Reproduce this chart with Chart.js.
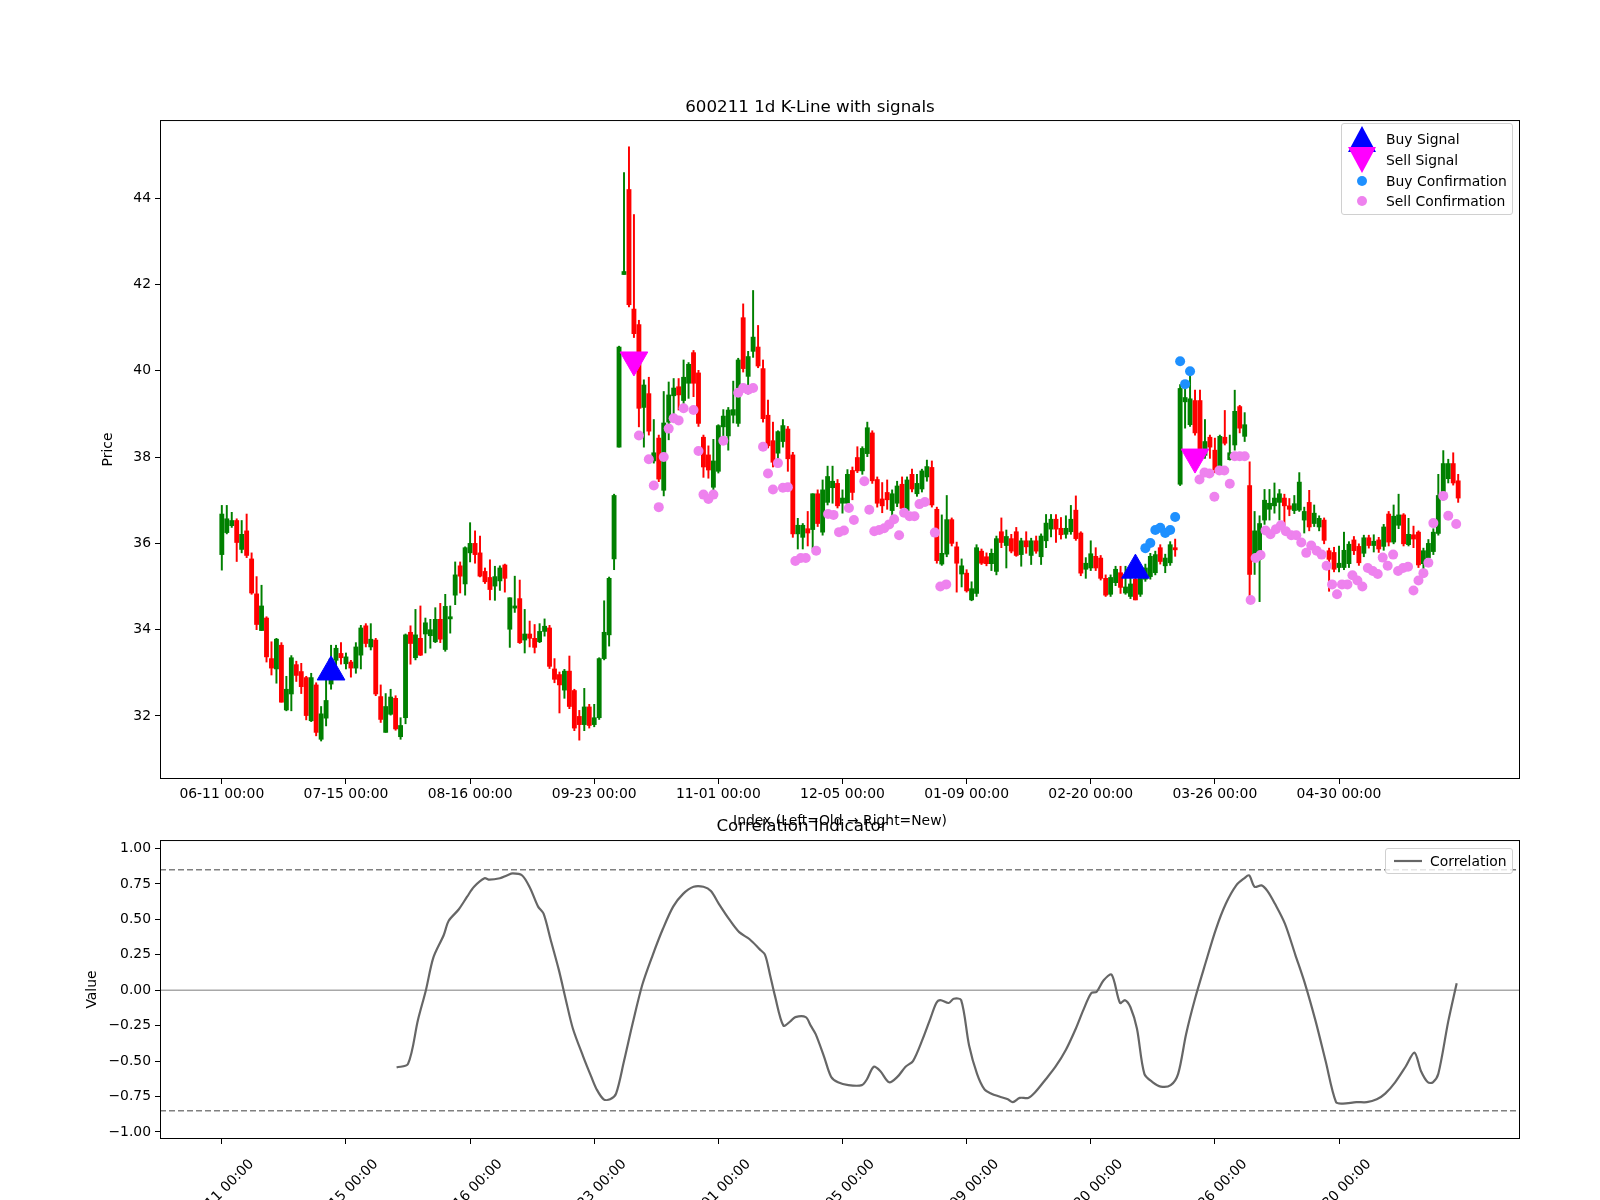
<!DOCTYPE html>
<html><head><meta charset="utf-8">
<script src="https://cdn.jsdelivr.net/npm/chart.js@4.4.0/dist/chart.umd.min.js"></script>
<style>
html,body{margin:0;padding:0;width:1600px;height:1200px;overflow:hidden;background:#fff;font-family:"DejaVu Sans",sans-serif}
canvas{position:absolute;left:0}
.leg{position:absolute;border:1px solid #d0d0d0;border-radius:3px;background:rgba(255,255,255,0.8);font-size:13.9px;color:#000}
.row{position:absolute;left:0;height:20px;line-height:20px;white-space:nowrap}
.row span{position:absolute;left:44px}
.row svg{position:absolute;left:4px;top:-4px}
</style></head><body>
<canvas id="top" style="top:0" width="1600" height="830"></canvas>
<canvas id="bot" style="top:800px" width="1600" height="400"></canvas>
<div class="leg" style="left:1341px;top:123px;width:170px;height:90px">
 <div class="row" style="top:5px"><svg width="32" height="28"><polygon points="16,1 30,27 2,27" fill="#0000ff"/></svg><span>Buy Signal</span></div>
 <div class="row" style="top:26px"><svg width="32" height="28"><polygon points="2,1 30,1 16,27" fill="#ff00ff"/></svg><span>Sell Signal</span></div>
 <div class="row" style="top:47px"><svg width="32" height="28"><circle cx="16" cy="14" r="5" fill="#1e90ff"/></svg><span>Buy Confirmation</span></div>
 <div class="row" style="top:67px"><svg width="32" height="28"><circle cx="16" cy="14" r="5" fill="#ee82ee"/></svg><span>Sell Confirmation</span></div>
</div>
<div class="leg" style="left:1385px;top:848px;width:126px;height:24px">
 <div class="row" style="top:2px"><svg width="36" height="28"><line x1="4" y1="14" x2="32" y2="14" stroke="#666" stroke-width="2.2"/></svg><span style="left:44px">Correlation</span></div>
</div>
<script>
const tickIdx = [0,25,50,75,100,125,150,175,200,225];
const tickLabels = ['06-11 00:00','07-15 00:00','08-16 00:00','09-23 00:00','11-01 00:00','12-05 00:00','01-09 00:00','02-20 00:00','03-26 00:00','04-30 00:00'];
// [open, high, low, close]
const ohlc = [
[35.74,36.88,35.38,36.68],[36.25,36.88,36.22,36.57],[36.41,36.72,36.37,36.53],[36.53,36.57,35.58,36.02],[35.86,36.53,35.78,36.21],
[36.29,36.68,35.67,35.72],[35.64,35.78,34.82,34.85],[34.83,35.23,34.0,34.12],[33.98,35.03,33.98,34.55],[34.27,34.3,33.25,33.37],
[33.33,33.72,32.95,33.11],[33.09,33.8,32.76,33.78],[33.64,33.7,32.32,32.32],[32.14,32.92,32.12,32.62],[32.51,33.4,32.12,33.35],
[33.19,33.27,32.8,32.94],[33.03,33.22,32.52,32.68],[32.89,32.92,31.91,32.01],[31.89,32.99,31.87,32.89],[32.72,32.77,31.54,31.62],
[31.46,32.22,31.42,32.05],[31.95,32.99,31.77,32.36],[32.74,33.64,32.62,33.32],[33.29,33.64,33.05,33.57],[33.45,33.7,33.2,33.35],
[33.21,33.46,33.09,33.37],[33.25,33.29,32.9,33.11],[33.11,33.7,32.99,33.6],[33.41,34.1,33.09,34.04],[34.09,34.14,33.6,33.68],
[33.6,34.14,33.53,33.78],[33.76,33.8,32.47,32.51],[32.45,32.72,31.85,31.92],[31.62,32.52,31.62,32.22],[32.04,32.62,32.02,32.44],
[32.41,32.47,31.67,31.7],[31.52,31.96,31.46,31.78],[31.96,33.9,31.82,33.88],[33.94,34.09,33.2,33.68],[33.35,34.47,33.3,33.88],
[33.8,34.55,33.4,33.41],
[33.9,34.27,33.46,34.16],[33.86,34.24,33.57,34.0],[33.72,34.51,33.7,34.24],[34.24,34.61,33.7,33.78],[33.54,34.82,33.5,34.54],
[34.25,34.55,33.92,34.3],[34.8,35.57,34.58,35.27],[35.48,35.57,34.85,35.24],[35.06,35.92,34.8,35.9],[35.78,36.48,35.57,36.0],
[36.0,36.29,35.54,35.74],[35.78,36.17,35.22,35.24],[35.35,35.43,35.07,35.11],[35.21,35.62,34.69,34.93],[35.01,35.47,34.68,35.23],
[35.13,35.48,34.91,35.43],[35.5,35.52,34.87,35.19],[34.01,34.74,33.59,34.74],[34.5,35.24,34.4,34.55],[34.72,35.15,33.68,33.7],
[33.76,34.47,33.46,33.9],[33.9,34.2,33.6,33.8],[33.8,34.12,33.46,33.59],[33.72,34.14,33.7,33.96],[33.96,34.25,33.85,34.08],
[34.04,34.1,33.1,33.15],[33.09,33.33,32.77,32.85],[32.96,33.02,32.07,32.72],[32.6,33.08,32.41,33.04],[33.04,33.39,32.17,32.22],
[32.59,32.62,31.66,31.72],[31.99,32.13,31.44,31.8],[31.8,32.64,31.66,32.21],[32.21,32.27,31.72,31.78],[31.8,32.27,31.75,31.96],
[31.96,33.35,31.92,33.33],[33.33,34.67,33.3,33.94],[33.88,35.22,33.62,35.19],[35.64,37.14,35.39,37.11],
[38.23,40.57,38.23,40.55],[42.23,44.59,42.23,42.3],[44.2,45.19,41.48,41.53],[41.43,43.62,40.77,40.86],[41.07,41.17,38.7,39.13],
[39.15,39.79,38.23,39.67],[39.47,39.85,38.51,38.6],[37.91,38.87,37.86,38.1],[38.44,38.51,37.43,37.49],[37.23,39.52,37.1,38.79],
[38.81,39.74,38.4,39.44],[39.42,39.82,38.87,39.6],[39.63,39.82,39.09,39.44],[39.31,40.25,39.24,39.85],[39.71,40.19,39.36,40.15],
[40.42,40.47,39.4,39.71],[39.95,40.01,38.71,38.78],[38.46,38.51,37.53,37.77],[38.05,38.26,37.51,37.7],[37.3,38.41,37.23,37.91],
[37.67,38.75,37.63,38.73],[38.7,39.1,38.45,38.95],[38.49,39.15,38.16,39.09],[38.97,39.76,38.79,39.1],[38.78,40.29,38.71,40.25],
[41.23,41.55,39.97,40.05],[39.87,40.45,39.46,40.33],[40.45,41.86,40.31,40.78],[40.55,41.05,40.07,40.11],[40.05,40.25,38.81,38.89],
[38.97,39.32,38.21,38.26],[38.38,38.81,37.77,37.88],[38.09,38.61,37.79,38.59],[38.36,38.87,38.23,38.73],[38.65,38.71,37.67,37.96],
[38.05,38.11,36.14,36.22],[36.22,36.58,35.87,36.42],[36.14,36.46,35.87,36.42],[36.34,36.74,35.94,36.24],[36.32,37.15,35.87,37.15],
[37.15,37.24,36.39,36.46],[36.26,37.47,36.19,37.24],[36.95,37.79,36.89,37.55],[37.29,37.79,36.93,37.44],[37.39,37.48,36.82,36.87],
[36.93,37.24,36.7,37.05],[36.93,37.71,36.84,37.6],[37.69,37.77,37.01,37.18],[37.99,38.24,37.64,37.68],[37.68,38.24,37.6,38.2],
[38.08,38.81,38.01,38.68],[38.56,38.61,37.39,37.45],[37.48,37.54,36.84,36.93],[37.03,37.41,36.71,36.87],[37.18,37.47,36.79,37.01],
[36.76,37.24,36.63,37.15],[36.93,37.44,36.85,37.33],[37.37,37.54,36.71,36.81],[36.76,37.54,36.74,37.47],[37.6,37.72,37.19,37.26],
[37.15,37.6,37.09,37.39],[37.26,37.72,37.19,37.68],[37.54,37.93,37.44,37.78],[37.76,37.91,36.84,36.89],[36.79,36.84,35.54,35.6],
[35.52,36.66,35.49,35.77],[35.75,37.11,35.69,36.55],[36.55,36.59,35.94,36.0],
[35.92,36.03,34.87,35.54],[35.29,35.64,34.99,35.48],[35.31,35.39,34.87,34.9],[34.69,35.11,34.67,34.95],[34.84,35.97,34.77,35.9],
[35.82,35.87,35.51,35.54],[35.69,35.78,35.48,35.53],[35.53,35.87,35.37,35.77],[35.35,36.17,35.27,36.11],[36.27,36.59,35.9,36.02],
[35.95,36.31,35.43,36.16],[36.11,36.21,35.78,35.82],[36.27,36.37,35.7,35.72],[35.74,36.12,35.47,36.06],[36.06,36.27,35.77,35.92],
[35.72,36.12,35.51,36.06],[36.06,36.17,35.77,35.82],[35.69,36.22,35.51,36.17],[36.06,36.67,35.9,36.47],[36.33,36.67,36.15,36.56],
[36.56,36.67,36.02,36.33],[36.35,36.6,36.1,36.2],[36.21,36.64,36.12,36.35],[36.27,36.88,36.21,36.56],[36.77,37.1,36.07,36.11],
[36.24,36.27,35.25,35.31],[35.4,35.67,35.19,35.54],[35.43,36.06,35.37,35.76],[35.7,35.9,35.37,35.43],[35.66,35.72,35.15,35.19],
[35.19,35.27,34.77,34.8],[34.82,35.27,34.77,35.21],[35.09,35.47,35.02,35.4],[35.32,35.47,34.84,34.98],[34.85,35.47,34.82,34.99],
[34.77,35.22,34.72,35.06],[35.17,35.22,34.69,34.69],[34.82,35.37,34.77,35.26],[35.17,35.52,35.12,35.43],[35.23,35.77,35.17,35.7],
[35.32,35.82,35.27,35.74],[35.9,35.97,35.52,35.58],
[35.48,35.75,35.32,35.66],[35.55,36.04,35.49,35.97],[35.9,36.1,35.7,35.85],[37.37,39.68,37.34,39.59],[39.28,39.67,38.67,39.38],
[38.75,40.01,38.71,39.35],[39.31,39.55,38.51,38.56],[39.31,39.55,38.04,38.08],[38.04,38.87,37.97,38.36],[38.46,38.51,37.97,38.23],
[38.16,38.44,37.64,37.7],[37.77,38.51,37.74,38.48],[38.46,39.08,38.28,38.32],[37.94,38.51,37.93,38.1],[38.28,39.55,38.16,39.06],
[39.17,39.2,38.56,38.67],[38.48,39.03,38.36,38.75],[37.34,37.89,34.73,35.28],[35.58,36.74,35.28,36.29],[35.63,36.64,34.65,36.46],
[36.54,37.25,36.44,37.0],[36.79,37.25,36.54,36.93],[36.87,37.4,36.7,37.05],[36.95,37.25,36.54,37.15],[37.05,37.14,36.42,36.87],
[36.87,37.04,36.64,36.79],[36.76,37.11,36.69,36.92],[36.77,37.64,36.74,37.42],[36.54,36.84,36.24,36.74],[36.95,37.23,36.29,36.38],
[36.46,36.89,36.39,36.7],[36.38,36.64,36.29,36.58],[36.54,36.59,35.99,36.07],[35.83,35.89,34.89,35.63],[35.79,35.91,35.34,35.4],
[35.44,35.94,35.34,35.54],[35.44,36.26,35.39,35.84],[35.53,36.04,35.44,35.98],[36.08,36.16,35.74,35.83],[35.93,35.99,35.49,35.55],
[35.77,36.19,35.69,36.13],[36.13,36.19,35.89,35.95],[35.95,36.2,35.8,36.05],[36.08,36.14,35.79,35.87],[35.93,36.44,35.84,36.38],
[36.68,36.74,35.94,36.03],[36.03,36.89,35.99,36.63],[36.42,37.14,36.34,36.66],[36.66,36.69,35.94,35.99],[35.97,36.58,35.94,36.21],
[36.2,36.4,35.9,36.1],[36.26,36.29,35.44,35.5],[35.53,35.89,35.36,35.83],[35.67,36.09,35.64,36.0],[35.81,36.34,35.74,36.26],
[36.23,37.6,36.19,37.11],[37.1,38.15,37.0,37.85],[37.5,37.95,37.4,37.85],[37.85,38.1,37.35,37.4],[37.45,37.6,36.95,37.05]
];
const buySigIdx = [22,184], buySigPrice = [33.02,35.38];
const sellSigIdx = [83,196], sellSigPrice = [40.25,38.0];
const buyConfIdx = [186,187,188,189,190,191,192,193,194,195];
const buyConfPrice = [35.89,36.01,36.31,36.36,36.24,36.31,36.61,40.22,39.69,39.99];
const sellConfIdx = [84,86,87,88,89,90,91,92,93,95,96,97,98,99,101,104,105,106,107,109,110,111,112,113,114,
 115.5,116.6,117.6,119.7,122.1,123.2,124.3,125.3,126.3,127.3,129.4,130.4,131.4,132.4,133.4,134.4,135.4,136.4,137.4,138.5,139.5,140.5,141.6,143.6,144.7,145.9,
 196.9,197.9,198.9,199.9,200.9,201.9,203,204,205,206,207.2,208.2,209.2,210.2,211.2,212.3,213.3,214.3,215.4,216.4,217.4,218.4,219.4,220.5,221.5,222.5,223.6,224.6,225.6,226.7,227.7,228.7,229.7,230.8,231.8,232.8,233.8,234.8,235.9,236.9,237.9,238.9,240,241,242,243,244,246,247,248.6];
const sellConfPrice = [38.5,37.95,37.34,36.84,38.0,38.66,38.9,38.85,39.13,39.09,38.14,37.13,37.03,37.13,38.38,39.49,39.6,39.56,39.6,38.24,37.62,37.25,37.86,37.29,37.3,
 35.59,35.66,35.66,35.83,36.68,36.66,36.26,36.3,36.82,36.54,37.44,36.78,36.28,36.31,36.35,36.44,36.56,36.19,36.71,36.63,36.63,36.91,36.96,36.25,35.0,35.05,
 37.48,37.64,37.62,37.08,37.69,37.69,37.38,38.02,38.02,38.02,34.69,35.66,35.73,36.3,36.21,36.33,36.42,36.28,36.19,36.19,36.02,35.78,35.95,35.83,35.74,35.48,35.05,34.82,35.05,35.05,35.26,35.14,35.0,35.43,35.36,35.29,35.67,35.48,35.74,35.36,35.43,35.46,34.91,35.14,35.31,35.55,36.47,37.1,36.64,36.45];
const corrIdx = [35.2,37.5,39.5,41.1,42.6,44.7,45.7,47.7,49.4,50.8,52.9,53.9,56,57.4,58.6,60.5,62.1,63.7,64.8,66.2,67.9,69.3,70.7,72.8,74.4,75.5,76.9,78.2,79.4,81,82.7,84.7,86.8,88.8,90.9,92.9,95,97,98.5,100.1,102.2,104.2,106.3,108.3,109.4,110.4,111.4,113.1,114.5,115.5,117.6,118.6,119.6,121.3,122.7,124.1,126.2,128.9,129.9,131.3,132.6,134.4,136.1,137.7,139.2,141.2,142.7,143.9,144.7,146.4,147.4,148.9,150.5,152.1,153.6,155,156.6,158.3,159.3,160.7,162.4,163.8,165.9,167.9,170,172,173.5,175.1,176.2,177.6,179.2,180.9,181.9,183,184.3,185.8,187.5,189.1,191.1,192.6,194.2,196,198.1,200.2,202.2,204.3,205.9,206.9,208,209.4,210.6,212.1,214.1,216.2,218.2,220.3,222.3,224.4,225.8,228.5,230.6,232.6,234.3,236.3,238.4,240.2,241.5,242.9,243.9,245,247,248.7];
const corrVal = [-0.545,-0.52,-0.21,0,0.23,0.39,0.49,0.57,0.66,0.73,0.79,0.78,0.79,0.81,0.825,0.81,0.72,0.59,0.54,0.36,0.14,-0.07,-0.27,-0.47,-0.61,-0.70,-0.77,-0.77,-0.73,-0.50,-0.24,0.04,0.25,0.43,0.59,0.68,0.73,0.73,0.70,0.61,0.50,0.41,0.36,0.29,0.25,0.11,-0.04,-0.25,-0.22,-0.19,-0.19,-0.25,-0.31,-0.47,-0.61,-0.65,-0.67,-0.67,-0.63,-0.54,-0.57,-0.65,-0.61,-0.54,-0.50,-0.34,-0.20,-0.09,-0.07,-0.09,-0.06,-0.07,-0.39,-0.59,-0.70,-0.73,-0.75,-0.77,-0.79,-0.76,-0.76,-0.72,-0.63,-0.54,-0.42,-0.27,-0.14,-0.02,-0.01,0.07,0.11,-0.09,-0.07,-0.12,-0.27,-0.59,-0.65,-0.68,-0.67,-0.59,-0.31,-0.06,0.19,0.43,0.61,0.74,0.79,0.81,0.73,0.74,0.70,0.61,0.47,0.25,0.04,-0.22,-0.50,-0.79,-0.80,-0.79,-0.79,-0.77,-0.73,-0.65,-0.54,-0.44,-0.57,-0.65,-0.65,-0.59,-0.22,0.05];

const XMIN=-12.45, XMAX=261.45;
const FONT={family:'DejaVu Sans',size:13.9};
Chart.defaults.font.family='DejaVu Sans';
Chart.defaults.color='#000';
Chart.defaults.animation=false;
const frame={id:'frame',afterDraw(c){const a=c.chartArea,x=c.ctx;x.save();x.strokeStyle='#000';x.lineWidth=1;x.strokeRect(a.left+0.5,a.top+0.5,a.right-a.left-1,a.bottom-a.top-1);x.restore();}};
const col=r=>r[3]>=r[0]?'#008000':'#ff0000';
function xScale(rot){return {type:'linear',min:XMIN,max:XMAX,offset:false,
  afterBuildTicks:s=>{s.ticks=tickIdx.map(v=>({value:v}));},
  afterFit:s=>{s.height=rot?61:51;},
  grid:{offset:false,drawOnChartArea:false,drawTicks:true,tickLength:5,color:'#000'},border:{display:false},
  ticks:{font:FONT,color:'#000',padding:rot?12:2,autoSkip:false,maxRotation:rot?45:0,minRotation:rot?45:0,labelOffset:rot?30:0,
    callback:v=>{const i=tickIdx.indexOf(v);return i>=0?tickLabels[i]:'';}},
  title:rot?{display:false}:{display:true,text:'Index (Left=Old \u2192 Right=New)',font:FONT,padding:{top:0,bottom:0}}};}

new Chart(document.getElementById('top'),{type:'bar',
 data:{datasets:[
  {type:'scatter',label:'Buy Signal',data:buySigIdx.map((x,i)=>({x,y:buySigPrice[i]})),pointStyle:'triangle',pointRadius:16,backgroundColor:'#0000ff',borderColor:'#0000ff',order:1},
  {type:'scatter',label:'Sell Signal',data:sellSigIdx.map((x,i)=>({x,y:sellSigPrice[i]})),pointStyle:'triangle',rotation:180,pointRadius:16,backgroundColor:'#ff00ff',borderColor:'#ff00ff',order:1},
  {type:'scatter',label:'Buy Confirmation',data:buyConfIdx.map((x,i)=>({x,y:buyConfPrice[i]})),pointRadius:5,backgroundColor:'#1e90ff',borderWidth:0,order:2},
  {type:'scatter',label:'Sell Confirmation',data:sellConfIdx.map((x,i)=>({x,y:sellConfPrice[i]})),pointRadius:5,backgroundColor:'#ee82ee',borderWidth:0,order:2},
  {label:'body',data:ohlc.map((r,i)=>({x:i,y:[r[0],r[3]===r[0]?r[3]+0.02:r[3]]})),backgroundColor:ohlc.map(col),barThickness:4.2,grouped:false,order:4},
  {label:'wick',data:ohlc.map((r,i)=>({x:i,y:[r[2],r[1]]})),backgroundColor:ohlc.map(col),barThickness:1.3,grouped:false,order:5}
 ]},
 options:{responsive:false,devicePixelRatio:1,layout:{padding:{left:100,right:80,top:0,bottom:0}},
  plugins:{legend:{display:false},tooltip:{enabled:false},
   title:{display:true,text:'600211 1d K-Line with signals',font:{family:'DejaVu Sans',size:16.7,weight:'normal'},color:'#000',padding:{top:98,bottom:2}}},
  scales:{x:xScale(false),
   y:{type:'linear',min:30.54,max:45.81,afterBuildTicks:s=>{s.ticks=[32,34,36,38,40,42,44].map(v=>({value:v}));},
    afterFit:s=>{s.width=60;},grid:{drawOnChartArea:false,tickLength:5,color:'#000'},border:{display:false},
    ticks:{font:FONT,color:'#000',padding:4,callback:v=>String(v)},
    title:{display:true,text:'Price',font:FONT,padding:{top:0,bottom:0}}}}},
 plugins:[frame]});

const lineSpan=(y)=>[{x:XMIN,y},{x:XMAX,y}];
new Chart(document.getElementById('bot'),{type:'line',
 data:{datasets:[
  {label:'Correlation',data:corrIdx.map((x,i)=>({x,y:corrVal[i]})),borderColor:'#666666',borderWidth:2.2,pointRadius:0,tension:0.3,order:1},
  {data:lineSpan(0.85),borderColor:'#808080',borderWidth:1.5,borderDash:[6,3],pointRadius:0,order:2},
  {data:lineSpan(-0.85),borderColor:'#808080',borderWidth:1.5,borderDash:[6,3],pointRadius:0,order:2},
  {data:lineSpan(0),borderColor:'#a8a8a8',borderWidth:1.5,pointRadius:0,order:2}
 ]},
 options:{responsive:false,devicePixelRatio:1,layout:{padding:{left:84,right:80,top:0,bottom:0}},
  plugins:{legend:{display:false},tooltip:{enabled:false},
   title:{display:true,text:'Correlation Indicator',font:{family:'DejaVu Sans',size:16.7,weight:'normal'},color:'#000',padding:{top:17,bottom:3}}},
  scales:{x:xScale(true),
   y:{type:'linear',min:-1.05,max:1.06,afterBuildTicks:s=>{s.ticks=[-1,-0.75,-0.5,-0.25,0,0.25,0.5,0.75,1].map(v=>({value:v}));},
    afterFit:s=>{s.width=76;},grid:{drawOnChartArea:false,tickLength:5,color:'#000'},border:{display:false},
    ticks:{font:FONT,color:'#000',padding:4,callback:v=>(v<0?'\u2212':'')+Math.abs(v).toFixed(2)},
    title:{display:true,text:'Value',font:FONT,padding:{top:0,bottom:0}}}}},
 plugins:[frame]});
</script></body></html>
